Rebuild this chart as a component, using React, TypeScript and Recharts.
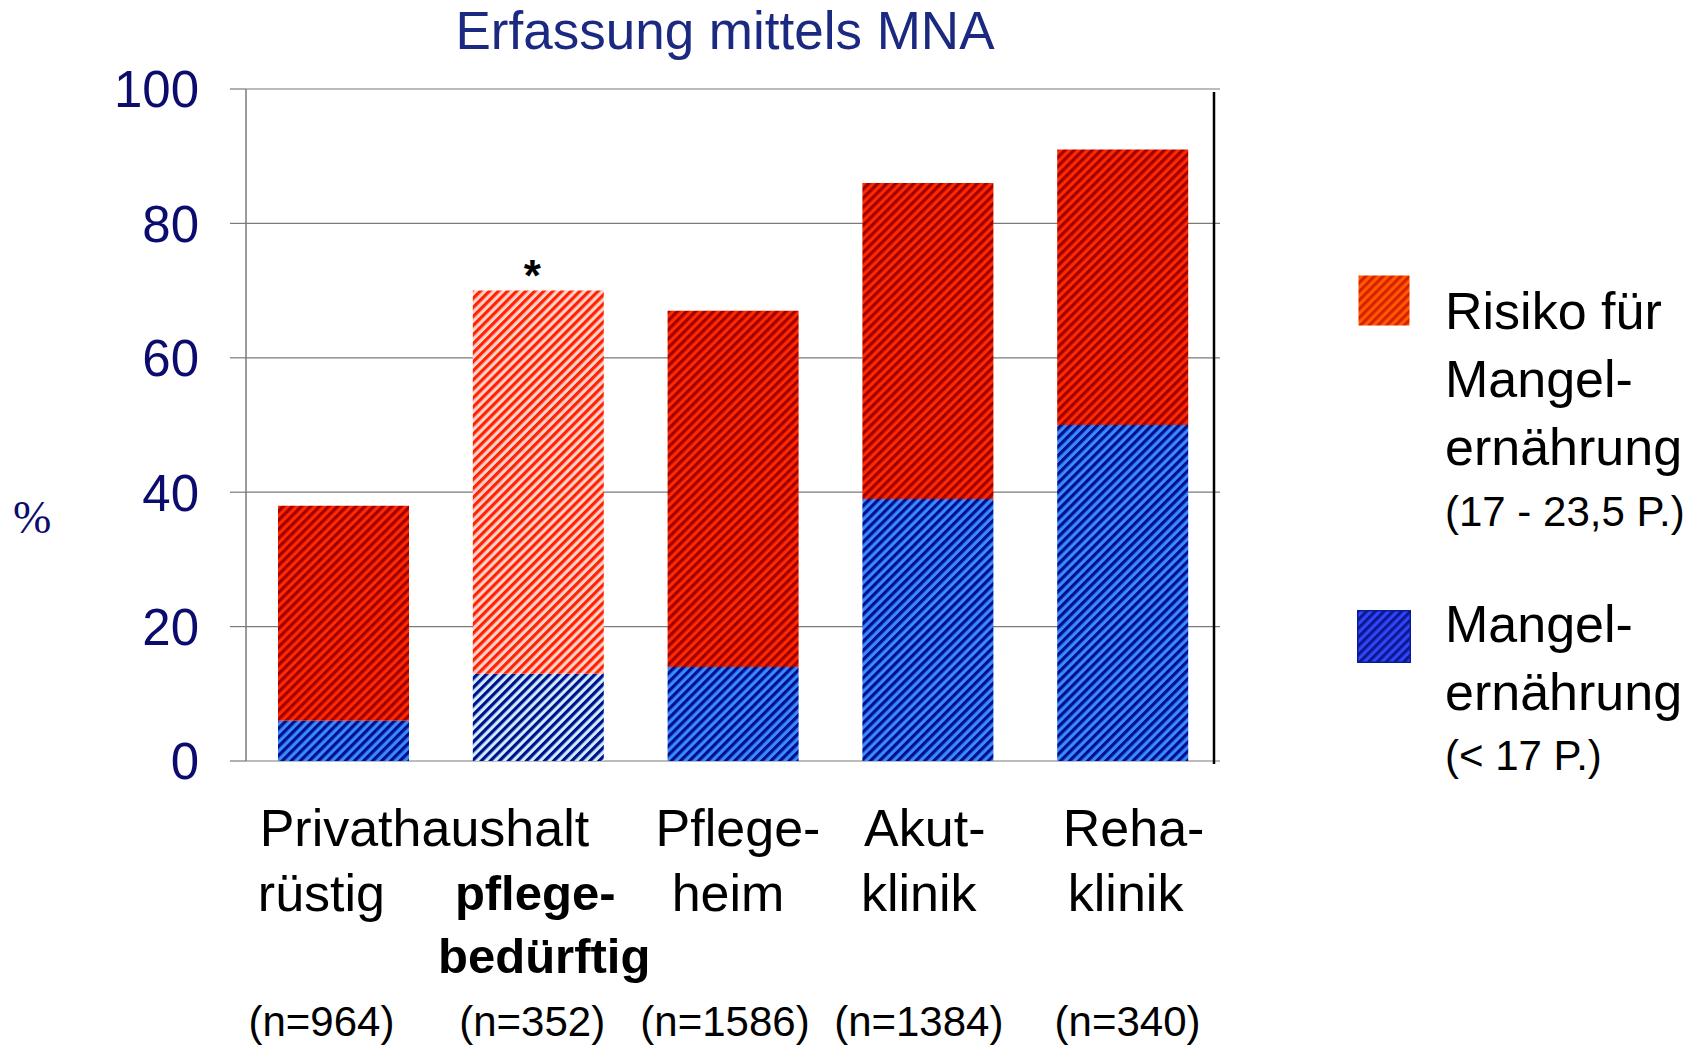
import React from 'react';
import { BarChart, Bar, XAxis, YAxis, CartesianGrid, Cell, LabelList } from 'recharts';

const categories = ['Privathaushalt rüstig', 'Privathaushalt pflegebedürftig', 'Pflegeheim', 'Akutklinik', 'Rehaklinik'];
const malnutrition = [6, 13, 14, 39, 50];
const riskOfMalnutrition = [32, 57, 53, 47, 41];
const sampleSizes = [964, 352, 1586, 1384, 340];
const groupLabels = ['Privathaushalt', '', 'Pflege-', 'Akut-', 'Reha-'];
const typeLabels = ['rüstig', 'pflege-', 'heim', 'klinik', 'klinik'];
const typeLabels2 = ['', 'bedürftig', '', '', ''];
const markers = ['', '*', '', '', ''];
const yTicks = [0, 20, 40, 60, 80, 100];
const legendRisk = ['Risiko für', 'Mangel-', 'ernährung'];
const legendRiskNote = '(17 - 23,5 P.)';
const legendMal = ['Mangel-', 'ernährung'];
const legendMalNote = '(< 17 P.)';

const data = categories.map((name, i) => ({
  name,
  mal: malnutrition[i],
  risk: riskOfMalnutrition[i],
  marker: markers[i],
}));

const NAVY = '#0c0c6e';
const GRID = '#7a7a7a';
const FONT = '"Liberation Sans", Arial, sans-serif';

// horizontal nudges of each label line, per category (px)
const DX = [
  [81, 0, 5, -3, 11],
  [-22, -3, -5, -9, 3],
  [0, 6, 0, 0, 0],
  [-22, -6, -8, -9, 5],
];

function Stripes({ id, bg, fg, size = 6.4 }: { id: string; bg: string; fg: string; size?: number }) {
  return (
    <pattern id={id} patternUnits="userSpaceOnUse" width={size} height={size} patternTransform="rotate(45)">
      <rect width={size} height={size} fill={bg} />
      <rect width={size / 2} height={size} fill={fg} />
    </pattern>
  );
}

const YTick = ({ x, y, payload }: any) => (
  <text x={x} y={y} dy="0.36em" textAnchor="end" fontSize={51} fill={NAVY} fontFamily={FONT}>
    {payload.value}
  </text>
);

const XTick = (props: any) => {
  const { x, y, payload } = props;
  const i = categories.indexOf(payload.value);
  const common = { textAnchor: 'middle' as const, dominantBaseline: 'central' as const, fill: '#000', fontFamily: FONT };
  const bold = !!markers[i];
  return (
    <g>
      {groupLabels[i] && (
        <text x={x + DX[0][i]} y={y + 67} fontSize={52} {...common}>{groupLabels[i]}</text>
      )}
      <text x={x + DX[1][i]} y={y + 132} fontSize={bold ? 49 : 52} fontWeight={bold ? 'bold' : 'normal'} {...common}>
        {typeLabels[i]}
      </text>
      {typeLabels2[i] && (
        <text x={x + DX[2][i]} y={y + 195} fontSize={bold ? 49 : 52} fontWeight={bold ? 'bold' : 'normal'} {...common}>
          {typeLabels2[i]}
        </text>
      )}
      <text x={x + DX[3][i]} y={y + 260} fontSize={42} {...common}>(n={sampleSizes[i]})</text>
    </g>
  );
};

const renderMarker = (props: any) => {
  const { x, y, width, value } = props;
  if (!value) return null;
  return (
    <text x={x + width / 2 - 6} y={y} textAnchor="middle" fontSize={44} fontWeight="bold" fill="#000" fontFamily={FONT}>
      {value}
    </text>
  );
};

function LegendSwatch({ id, bg, fg, border }: { id: string; bg: string; fg: string; border: string }) {
  return (
    <svg width={54} height={53} style={{ display: 'block' }}>
      <defs>
        <Stripes id={id} bg={bg} fg={fg} size={6.2} />
      </defs>
      <rect x={0.75} y={0.75} width={52.5} height={51.5} fill={`url(#${id})`} stroke={border} strokeWidth={1.5} />
    </svg>
  );
}

export default function App() {
  const textLine = (t: string, top: number, size: number) => (
    <div key={t + top} style={{ position: 'absolute', left: 1445, top: top - size * 0.6, fontSize: size, lineHeight: `${size * 1.2}px`, whiteSpace: 'nowrap', color: '#000' }}>
      {t}
    </div>
  );
  return (
    <div style={{ position: 'absolute', left: 0, top: 0, width: 1703, height: 1045, background: '#fff', fontFamily: FONT, overflow: 'hidden' }}>
      <div style={{ position: 'absolute', left: 0, top: 0, width: 1450, textAlign: 'center', fontSize: 53, lineHeight: '62px', color: '#1b2a80' }}>
        Erfassung mittels MNA
      </div>
      <div style={{ position: 'absolute', left: 13, top: 490, fontSize: 46, lineHeight: '56px', color: NAVY, fontFamily: '"Liberation Serif", "Times New Roman", serif' }}>
        %
      </div>
      <div style={{ position: 'absolute', left: 0, top: 0 }}>
        <BarChart width={1703} height={1045} data={data} margin={{ top: 89, right: 482, bottom: 84, left: 146 }} barCategoryGap={0}>
          <defs>
            <Stripes id="redStd" bg="#ff2a00" fg="#a00000" />
            <Stripes id="redLight" bg="#ffd2cc" fg="#ff2200" />
            <Stripes id="blueStd" bg="#3a8aff" fg="#00108c" />
            <Stripes id="blueLight" bg="#cdeeff" fg="#000e8a" />
          </defs>
          <CartesianGrid vertical={false} stroke={GRID} strokeWidth={1.2} yAxisId="l" />
          <XAxis dataKey="name" axisLine={false} tickLine={false} tickSize={0} tickMargin={0} height={200} tick={<XTick />} interval={0} />
          <YAxis
            yAxisId="l"
            width={100}
            domain={[0, 100]}
            ticks={yTicks}
            tickSize={16}
            tickMargin={31}
            axisLine={{ stroke: GRID, strokeWidth: 1.5 }}
            tickLine={{ stroke: GRID, strokeWidth: 1.2 }}
            tick={<YTick />}
            interval={0}
          />
          <YAxis
            yAxisId="r"
            orientation="right"
            width={1}
            domain={[0, 100]}
            ticks={yTicks}
            tick={false}
            tickLine={false}
            axisLine={{ stroke: '#000', strokeWidth: 2.5, transform: 'translate(-6, 3)' }}
          />
          <Bar dataKey="mal" stackId="a" yAxisId="l" barSize={131} isAnimationActive={false}>
            {data.map((d, i) => (
              <Cell key={i} fill={d.marker ? 'url(#blueLight)' : 'url(#blueStd)'} />
            ))}
          </Bar>
          <Bar dataKey="risk" stackId="a" yAxisId="l" barSize={131} isAnimationActive={false}>
            {data.map((d, i) => (
              <Cell key={i} fill={d.marker ? 'url(#redLight)' : 'url(#redStd)'} />
            ))}
            <LabelList dataKey="marker" content={renderMarker} />
          </Bar>
        </BarChart>
      </div>
      <div style={{ position: 'absolute', left: 1357, top: 274 }}>
        <LegendSwatch id="legRed" bg="#ff5a00" fg="#d82000" border="#ffffff" />
      </div>
      <div style={{ position: 'absolute', left: 1357, top: 610 }}>
        <LegendSwatch id="legBlue" bg="#3344ff" fg="#0a1a8a" border="#0a1a9a" />
      </div>
      {legendRisk.map((t, i) => textLine(t, 311 + i * 68, 52))}
      {textLine(legendRiskNote, 512, 42)}
      {legendMal.map((t, i) => textLine(t, 624 + i * 68, 52))}
      {textLine(legendMalNote, 756, 42)}
    </div>
  );
}
